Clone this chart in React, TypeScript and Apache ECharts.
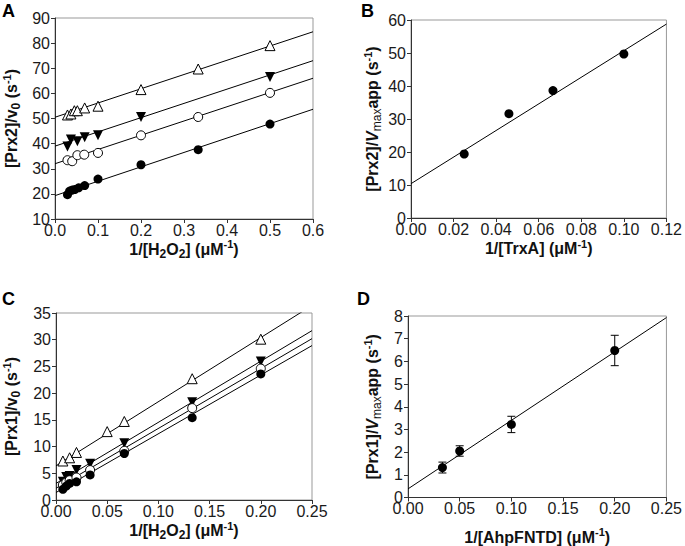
import React, { useEffect, useRef } from "react";
import * as echarts from "echarts";

// ---------- Panel A: [Prx2]/v0 vs 1/[H2O2] ----------
const aTriX = [0.029, 0.037, 0.045, 0.052, 0.069, 0.1, 0.2, 0.333, 0.5];
const aTriY = [51.4, 51.8, 53.1, 53.1, 54.2, 54.9, 61.5, 69.7, 79.0];
const aInvX = [0.029, 0.037, 0.052, 0.069, 0.1, 0.2, 0.5];
const aInvY = [38.9, 41.6, 40.9, 42.5, 43.3, 50.6, 66.5];
const aOpenX = [0.029, 0.04, 0.052, 0.068, 0.1, 0.2, 0.333, 0.5];
const aOpenY = [33.4, 33.0, 35.4, 35.6, 36.3, 43.3, 50.6, 60.2];
const aFillX = [0.029, 0.034, 0.04, 0.046, 0.055, 0.069, 0.1, 0.2, 0.333, 0.5];
const aFillY = [19.7, 21.1, 21.5, 21.7, 22.4, 23.3, 25.9, 31.6, 37.6, 47.8];
// fitted lines: intercept, slope
const aFitB = [50.5, 39.0, 32.0, 19.3];
const aFitM = [56.7, 56.7, 56.7, 57.3];

// ---------- Panel B ----------
const bX = [0.025, 0.046, 0.0667, 0.1];
const bY = [19.4, 31.6, 38.6, 49.7];
const bFitB = 10.4;
const bFitM = 403;

// ---------- Panel C ----------
const cTriX = [0.0067, 0.0133, 0.02, 0.05, 0.0667, 0.133, 0.2];
const cTriY = [7.3, 7.9, 8.9, 12.8, 14.7, 22.7, 30.1];
const cInvX = [0.0067, 0.01, 0.0133, 0.02, 0.0333, 0.0667, 0.133, 0.2];
const cInvY = [3.4, 4.3, 4.5, 5.6, 6.8, 10.6, 18.3, 25.9];
const cOpenX = [0.0067, 0.01, 0.0133, 0.02, 0.0333, 0.0667, 0.133, 0.2];
const cOpenY = [2.8, 3.3, 3.7, 4.2, 5.6, 9.2, 17.2, 24.6];
const cFillX = [0.0067, 0.01, 0.0133, 0.02, 0.0333, 0.0667, 0.133, 0.2];
const cFillY = [2.0, 2.6, 3.1, 3.4, 4.7, 8.7, 15.4, 23.6];
const cFitB = [6.4, 3.1, 2.2, 1.4];
const cFitM = [120, 114.4, 112, 110];

// ---------- Panel D ----------
const dX = [0.0333, 0.05, 0.1, 0.2];
const dY = [1.32, 2.05, 3.22, 6.48];
const dErr = [0.24, 0.23, 0.36, 0.67];
const dFitB = 0.38;
const dFitM = 30.2;

const FONT = "'Liberation Sans', Arial, Helvetica, sans-serif";

const zip = (xs: number[], ys: number[]) => xs.map((x, i) => [x, ys[i]]);
const fitLine = (b: number, m: number, xmax: number) => [
  [0, b],
  [xmax, b + m * xmax],
];

const richName = {
  b: { fontFamily: FONT, fontSize: 16, fontWeight: "bold", color: "#111", lineHeight: 21 },
  bi: { fontFamily: FONT, fontSize: 16, fontWeight: "bold", fontStyle: "italic", color: "#111", lineHeight: 21 },
  sub: { fontFamily: FONT, fontSize: 12, fontWeight: "bold", color: "#111", lineHeight: 13, verticalAlign: "bottom" },
  subn: { fontFamily: FONT, fontSize: 12, fontWeight: "normal", color: "#111", lineHeight: 13, verticalAlign: "bottom" },
  sup: { fontFamily: FONT, fontSize: 11, fontWeight: "bold", color: "#111", lineHeight: 12, verticalAlign: "top" },
};

function xAxis(idx: number, max: number, interval: number, digits: number, name: string, gap: number) {
  return {
    type: "value",
    gridIndex: idx,
    min: 0,
    max,
    interval,
    name,
    nameLocation: "middle",
    nameGap: gap,
    nameTextStyle: { rich: richName },
    axisLine: { show: true, lineStyle: { color: "#333", width: 1 } },
    axisTick: { show: true, inside: false, length: 4, lineStyle: { color: "#333" } },
    axisLabel: {
      fontFamily: FONT,
      fontSize: 16,
      color: "#1a1a1a",
      margin: 5,
      lineHeight: 12,
      formatter: (v: number) => v.toFixed(digits),
    },
    splitLine: { show: false },
  };
}

function yAxis(idx: number, min: number, max: number, interval: number, name: string, gap: number) {
  return {
    type: "value",
    gridIndex: idx,
    min,
    max,
    interval,
    name,
    nameLocation: "middle",
    nameGap: gap,
    nameRotate: 90,
    nameTextStyle: { rich: richName },
    axisLine: { show: true, lineStyle: { color: "#333", width: 1 } },
    axisTick: { show: true, inside: false, length: 4, lineStyle: { color: "#333" } },
    axisLabel: { fontFamily: FONT, fontSize: 16, color: "#1a1a1a", margin: 5, lineHeight: 9 },
    splitLine: { show: false },
  };
}

function lineSeries(idx: number, data: number[][]) {
  return {
    type: "line",
    xAxisIndex: idx,
    yAxisIndex: idx,
    data,
    showSymbol: false,
    symbol: "none",
    clip: true,
    lineStyle: { color: "#000", width: 1 },
    silent: true,
  };
}

function scatter(idx: number, data: number[][], kind: "tri" | "inv" | "open" | "fill") {
  const isTri = kind === "tri" || kind === "inv";
  const filled = kind === "inv" || kind === "fill";
  return {
    type: "scatter",
    xAxisIndex: idx,
    yAxisIndex: idx,
    data,
    symbol: isTri ? "triangle" : "circle",
    symbolRotate: kind === "inv" ? 180 : 0,
    symbolSize: isTri ? 10 : 9,
    itemStyle: {
      color: filled ? "#000" : "#fff",
      borderColor: "#000",
      borderWidth: filled ? 0 : 1,
      opacity: 1,
    },
    z: 3,
  };
}

export default function App() {
  const ref = useRef<HTMLDivElement>(null);
  useEffect(() => {
    if (!ref.current) return;
    const chart = echarts.init(ref.current, undefined, { renderer: "svg" });
    const grid = (left: number, top: number, width: number, height: number) => ({
      left,
      top,
      width,
      height,
      show: true,
      borderColor: "#999",
      borderWidth: 1,
      backgroundColor: "transparent",
    });
    const errData = dX.map((x, i) => [x, dY[i], dErr[i]]);
    const option = {
      animation: false,
      grid: [grid(53, 18, 260, 201), grid(411, 20, 259, 198), grid(53, 313, 259, 187), grid(408, 316, 259, 183)],
      xAxis: [
        xAxis(0, 0.6, 0.1, 1, "{b|1/[H}{sub|2}{b|O}{sub|2}{b|] (μM}{sup|-1}{b|)}", 19),
        xAxis(1, 0.12, 0.02, 2, "{b|1/[TrxA] (μM}{sup|-1}{b|)}", 20),
        xAxis(2, 0.25, 0.05, 2, "{b|1/[H}{sub|2}{b|O}{sub|2}{b|] (μM}{sup|-1}{b|)}", 20),
        xAxis(3, 0.25, 0.05, 2, "{b|1/[AhpFNTD] (μM}{sup|-1}{b|)}", 29),
      ],
      yAxis: [
        yAxis(0, 10, 90, 10, "{b|[Prx2]/v}{sub|0}{b| (s}{sup|-1}{b|)}", 33),
        yAxis(1, 0, 60, 10, "{b|[Prx2]/}{bi|V}{subn|max}{b|app (s}{sup|-1}{b|)}", 28),
        yAxis(2, 0, 35, 5, "{b|[Prx1]/v}{sub|0}{b| (s}{sup|-1}{b|)}", 34),
        yAxis(3, 0, 8, 1, "{b|[Prx1]/}{bi|V}{subn|max}{b|app (s}{sup|-1}{b|)}", 25),
      ],
      graphic: [
        { type: "text", left: 2, top: 2, style: { text: "A", font: `bold 18px ${FONT}`, fill: "#000" } },
        { type: "text", left: 361, top: 2, style: { text: "B", font: `bold 18px ${FONT}`, fill: "#000" } },
        { type: "text", left: 2, top: 290, style: { text: "C", font: `bold 18px ${FONT}`, fill: "#000" } },
        { type: "text", left: 357, top: 290, style: { text: "D", font: `bold 18px ${FONT}`, fill: "#000" } },
      ],
      series: [
        ...aFitB.map((b, i) => lineSeries(0, fitLine(b, aFitM[i], 0.6))),
        scatter(0, zip(aTriX, aTriY), "tri"),
        scatter(0, zip(aInvX, aInvY), "inv"),
        scatter(0, zip(aOpenX, aOpenY), "open"),
        scatter(0, zip(aFillX, aFillY), "fill"),
        lineSeries(1, fitLine(bFitB, bFitM, 0.12)),
        scatter(1, zip(bX, bY), "fill"),
        ...cFitB.map((b, i) => lineSeries(2, fitLine(b, cFitM[i], 0.25))),
        scatter(2, zip(cTriX, cTriY), "tri"),
        scatter(2, zip(cInvX, cInvY), "inv"),
        scatter(2, zip(cOpenX, cOpenY), "open"),
        scatter(2, zip(cFillX, cFillY), "fill"),
        lineSeries(3, fitLine(dFitB, dFitM, 0.25)),
        {
          type: "custom",
          xAxisIndex: 3,
          yAxisIndex: 3,
          data: errData,
          encode: { x: 0, y: 1 },
          z: 2,
          renderItem: (_params: any, api: any) => {
            const x = api.value(0);
            const y = api.value(1);
            const e = api.value(2);
            const top = api.coord([x, y + e]);
            const bot = api.coord([x, y - e]);
            const st = { stroke: "#000", lineWidth: 1 };
            const cap = 4;
            return {
              type: "group",
              children: [
                { type: "line", shape: { x1: top[0], y1: top[1], x2: bot[0], y2: bot[1] }, style: st },
                { type: "line", shape: { x1: top[0] - cap, y1: top[1], x2: top[0] + cap, y2: top[1] }, style: st },
                { type: "line", shape: { x1: bot[0] - cap, y1: bot[1], x2: bot[0] + cap, y2: bot[1] }, style: st },
              ],
            };
          },
        },
        scatter(3, zip(dX, dY), "fill"),
      ],
    };
    chart.setOption(option as any);
    return () => chart.dispose();
  }, []);
  return (
    <div
      ref={ref}
      style={{ position: "absolute", left: 0, top: 0, width: 685, height: 546, background: "#fff" }}
    />
  );
}
